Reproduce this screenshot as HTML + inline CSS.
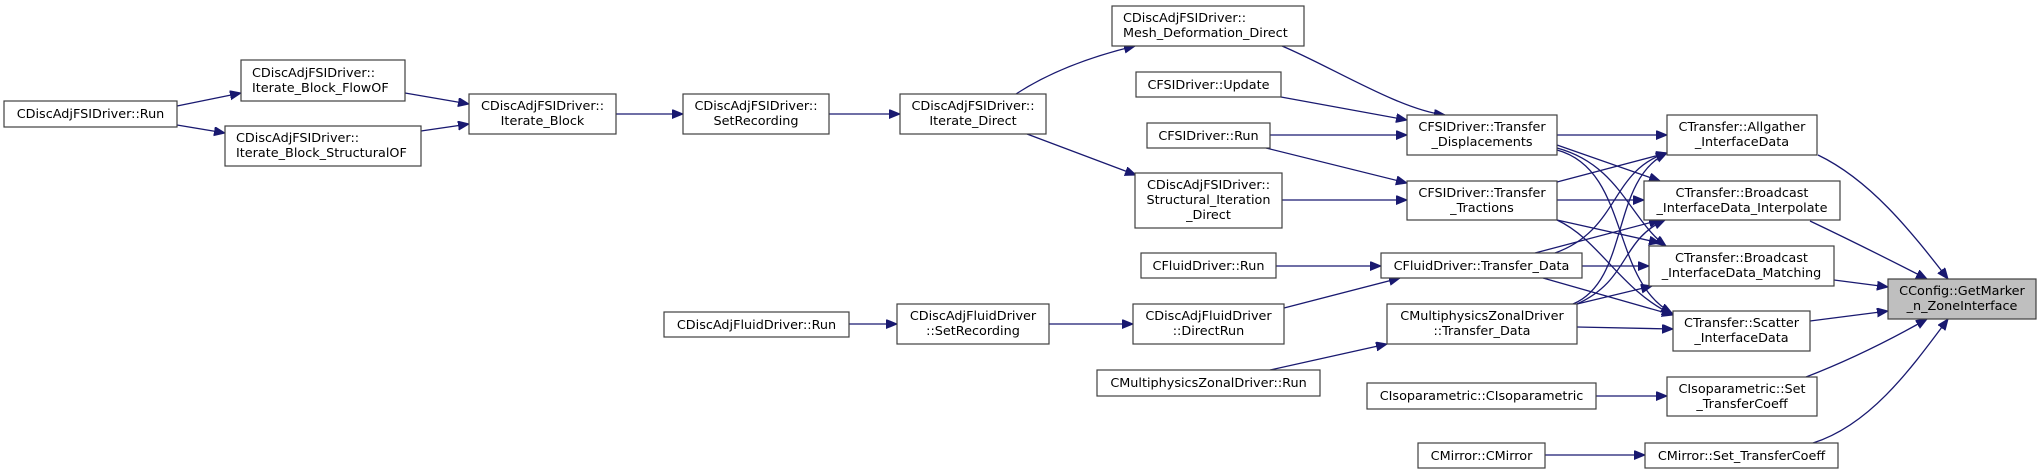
<!DOCTYPE html>
<html><head><meta charset="utf-8"><style>
html,body{margin:0;padding:0;background:#fff;}
svg{display:block;}
text{font-family:"DejaVu Sans","Liberation Sans",sans-serif;font-size:12.8px;fill:#000;}
.b{fill:#fff;stroke:#404040;stroke-width:1.2;}
.e{fill:none;stroke:#191970;stroke-width:1.3;marker-end:url(#a);}
</style></head><body>
<svg width="2041" height="474" viewBox="0 0 2041 474" xmlns="http://www.w3.org/2000/svg">
<defs><marker id="a" markerUnits="userSpaceOnUse" markerWidth="12" markerHeight="10" refX="11" refY="4.5" orient="auto"><path d="M0,0 L11,4.5 L0,9 z" fill="#191970" stroke="#191970"/></marker></defs>

<!-- edges -->
<path class="e" d="M177,106 L241,93"/>
<path class="e" d="M177,125 L225,133"/>
<path class="e" d="M405,93 L469,104"/>
<path class="e" d="M421,131 L469,124"/>
<path class="e" d="M616,114 L683,114"/>
<path class="e" d="M829,114 L900,114"/>
<path class="e" d="M1016,94 C1045,75 1085,58 1135,46"/>
<path class="e" d="M1027,134 L1136,175"/>
<path class="e" d="M1282,46 C1330,66 1400,110 1445,115"/>
<path class="e" d="M1281,97 L1407,120"/>
<path class="e" d="M1270,135 L1407,135"/>
<path class="e" d="M1266,148 L1407,183"/>
<path class="e" d="M1282,200 L1407,200"/>
<path class="e" d="M1276,266 L1381,266"/>
<path class="e" d="M849,324 L897,324"/>
<path class="e" d="M1049,324 L1133,324"/>
<path class="e" d="M1284,308 L1400,278"/>
<path class="e" d="M1270,370 L1387,344"/>
<path class="e" d="M1557,135 L1667,135"/>
<path class="e" d="M1557,145 L1660,181"/>
<path class="e" d="M1557,148 C1620,165 1630,220 1666,246"/>
<path class="e" d="M1557,150 C1630,170 1610,280 1672,313"/>
<path class="e" d="M1557,182 L1667,153"/>
<path class="e" d="M1557,200 L1644,200"/>
<path class="e" d="M1557,220 L1660,243"/>
<path class="e" d="M1557,220 C1600,240 1620,290 1673,315"/>
<path class="e" d="M1555,253 C1620,230 1610,170 1667,153"/>
<path class="e" d="M1535,253 L1660,220"/>
<path class="e" d="M1582,266 L1649,266"/>
<path class="e" d="M1543,278 L1673,315"/>
<path class="e" d="M1573,304 C1630,280 1610,180 1667,153"/>
<path class="e" d="M1577,304 C1630,280 1620,240 1665,220"/>
<path class="e" d="M1577,304 L1652,286"/>
<path class="e" d="M1577,327 L1673,329"/>
<path class="e" d="M1596,396 L1667,396"/>
<path class="e" d="M1545,455 L1645,455"/>
<path class="e" d="M1818,155 C1870,180 1910,230 1948,279"/>
<path class="e" d="M1810,221 C1850,240 1890,260 1927,279"/>
<path class="e" d="M1834,280 L1888,287"/>
<path class="e" d="M1810,321 L1888,311"/>
<path class="e" d="M1806,377 C1850,360 1890,340 1927,319"/>
<path class="e" d="M1813,443 C1870,425 1910,370 1948,319"/>

<!-- nodes -->
<rect class="b" x="4" y="101" width="173" height="26"/><text x="90.5" y="118" text-anchor="middle">CDiscAdjFSIDriver::Run</text>
<rect class="b" x="241" y="60" width="164" height="41"/><text x="252" y="77">CDiscAdjFSIDriver::</text><text x="252" y="92">Iterate_Block_FlowOF</text>
<rect class="b" x="225" y="126" width="196" height="40"/><text x="236" y="142">CDiscAdjFSIDriver::</text><text x="236" y="157">Iterate_Block_StructuralOF</text>
<rect class="b" x="469" y="94" width="147" height="40"/><text x="542.5" y="110" text-anchor="middle">CDiscAdjFSIDriver::</text><text x="542.5" y="125" text-anchor="middle">Iterate_Block</text>
<rect class="b" x="683" y="94" width="146" height="40"/><text x="756" y="110" text-anchor="middle">CDiscAdjFSIDriver::</text><text x="756" y="125" text-anchor="middle">SetRecording</text>
<rect class="b" x="900" y="94" width="146" height="40"/><text x="973" y="110" text-anchor="middle">CDiscAdjFSIDriver::</text><text x="973" y="125" text-anchor="middle">Iterate_Direct</text>
<rect class="b" x="1112" y="6" width="192" height="40"/><text x="1123" y="22">CDiscAdjFSIDriver::</text><text x="1123" y="37">Mesh_Deformation_Direct</text>
<rect class="b" x="1136" y="72" width="145" height="25"/><text x="1208.5" y="89" text-anchor="middle">CFSIDriver::Update</text>
<rect class="b" x="1147" y="123" width="123" height="25"/><text x="1208.5" y="140" text-anchor="middle">CFSIDriver::Run</text>
<rect class="b" x="1135" y="173" width="147" height="55"/><text x="1208.5" y="189" text-anchor="middle">CDiscAdjFSIDriver::</text><text x="1208.5" y="204" text-anchor="middle">Structural_Iteration</text><text x="1208.5" y="219" text-anchor="middle">_Direct</text>
<rect class="b" x="1141" y="253" width="135" height="25"/><text x="1208.5" y="270" text-anchor="middle">CFluidDriver::Run</text>
<rect class="b" x="664" y="312" width="185" height="25"/><text x="756.5" y="329" text-anchor="middle">CDiscAdjFluidDriver::Run</text>
<rect class="b" x="897" y="304" width="152" height="40"/><text x="973" y="320" text-anchor="middle">CDiscAdjFluidDriver</text><text x="973" y="335" text-anchor="middle">::SetRecording</text>
<rect class="b" x="1133" y="304" width="151" height="40"/><text x="1208.5" y="320" text-anchor="middle">CDiscAdjFluidDriver</text><text x="1208.5" y="335" text-anchor="middle">::DirectRun</text>
<rect class="b" x="1097" y="370" width="223" height="26"/><text x="1208.5" y="387" text-anchor="middle">CMultiphysicsZonalDriver::Run</text>
<rect class="b" x="1407" y="115" width="150" height="40"/><text x="1482" y="131" text-anchor="middle">CFSIDriver::Transfer</text><text x="1482" y="146" text-anchor="middle">_Displacements</text>
<rect class="b" x="1407" y="181" width="150" height="39"/><text x="1482" y="197" text-anchor="middle">CFSIDriver::Transfer</text><text x="1482" y="212" text-anchor="middle">_Tractions</text>
<rect class="b" x="1381" y="253" width="201" height="25"/><text x="1481.5" y="270" text-anchor="middle">CFluidDriver::Transfer_Data</text>
<rect class="b" x="1387" y="304" width="190" height="40"/><text x="1482" y="320" text-anchor="middle">CMultiphysicsZonalDriver</text><text x="1482" y="335" text-anchor="middle">::Transfer_Data</text>
<rect class="b" x="1367" y="383" width="229" height="26"/><text x="1481.5" y="400" text-anchor="middle">CIsoparametric::CIsoparametric</text>
<rect class="b" x="1418" y="443" width="127" height="25"/><text x="1481.5" y="460" text-anchor="middle">CMirror::CMirror</text>
<rect class="b" x="1667" y="115" width="150" height="40"/><text x="1742" y="131" text-anchor="middle">CTransfer::Allgather</text><text x="1742" y="146" text-anchor="middle">_InterfaceData</text>
<rect class="b" x="1644" y="181" width="196" height="39"/><text x="1742" y="197" text-anchor="middle">CTransfer::Broadcast</text><text x="1742" y="212" text-anchor="middle">_InterfaceData_Interpolate</text>
<rect class="b" x="1649" y="246" width="185" height="40"/><text x="1741.5" y="262" text-anchor="middle">CTransfer::Broadcast</text><text x="1741.5" y="277" text-anchor="middle">_InterfaceData_Matching</text>
<rect class="b" x="1673" y="311" width="137" height="40"/><text x="1741.5" y="327" text-anchor="middle">CTransfer::Scatter</text><text x="1741.5" y="342" text-anchor="middle">_InterfaceData</text>
<rect class="b" x="1667" y="377" width="150" height="39"/><text x="1742" y="393" text-anchor="middle">CIsoparametric::Set</text><text x="1742" y="408" text-anchor="middle">_TransferCoeff</text>
<rect class="b" x="1645" y="443" width="193" height="25"/><text x="1741.5" y="460" text-anchor="middle">CMirror::Set_TransferCoeff</text>
<rect x="1888" y="279" width="148" height="40" fill="#bfbfbf" stroke="#404040" stroke-width="1.2"/><text x="1962" y="295" text-anchor="middle">CConfig::GetMarker</text><text x="1962" y="310" text-anchor="middle">_n_ZoneInterface</text>
</svg>
</body></html>
